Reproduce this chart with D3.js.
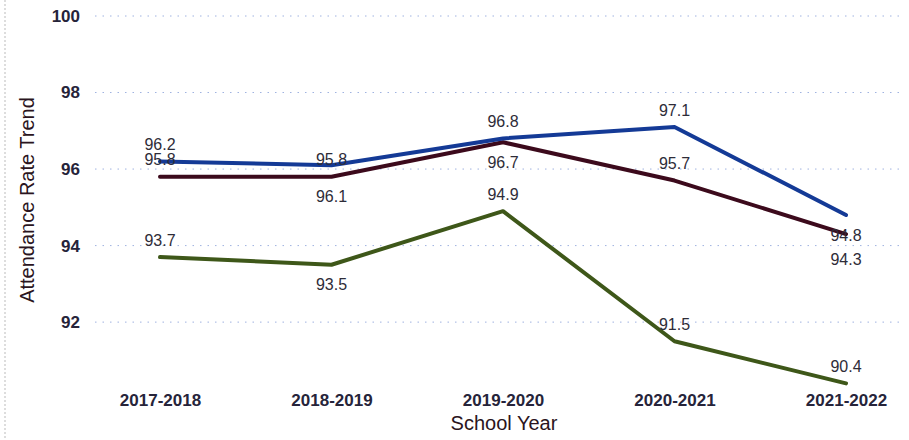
<!DOCTYPE html>
<html><head><meta charset="utf-8">
<script src="https://cdn.jsdelivr.net/npm/d3@7"></script>
<style>body{margin:0;background:#fff;font-family:"Liberation Sans",Arial,sans-serif}</style>
</head><body><svg id="c" width="909" height="440"></svg>
<script>
const categories = ["2017-2018","2018-2019","2019-2020","2020-2021","2021-2022"];
const blueValues   = [96.2, 96.1, 96.8, 97.1, 94.8];
const maroonValues = [95.8, 95.8, 96.7, 95.7, 94.3];
const greenValues  = [93.7, 93.5, 94.9, 91.5, 90.4];
const blueLabels   = ["96.2","95.8","96.8","97.1","94.8"];
const maroonLabels = ["95.8","96.1","96.7","95.7","94.3"];
const greenLabels  = ["93.7","93.5","94.9","91.5","90.4"];
const blueLabelPos   = ["above","on","above","above","below"];
const maroonLabelPos = ["above","below","below","above","below2"];
const greenLabelPos  = ["above","below","above","above","above"];
const yTicks = [92, 94, 96, 98, 100];

const svg = d3.select("#c");
const x = d3.scalePoint().domain(categories).range([160, 846]);
const y = d3.scaleLinear().domain([90.2, 100]).range([391, 16]);

// left dotted border
svg.append("line").attr("x1",5).attr("x2",5).attr("y1",0).attr("y2",440)
  .attr("stroke","#bbb").attr("stroke-dasharray","2,2");

// gridlines
svg.append("g").selectAll("line").data(yTicks).join("line")
  .attr("x1",95).attr("x2",905)
  .attr("y1",d=>y(d)).attr("y2",d=>y(d))
  .attr("stroke","#9fb2e0").attr("stroke-width",1).attr("stroke-dasharray","1.5,6");

// y axis
const yAxis = svg.append("g").attr("transform","translate(80,0)")
  .call(d3.axisLeft(y).tickValues(yTicks).tickSize(0).tickPadding(0));
yAxis.select(".domain").remove();
yAxis.selectAll("text").attr("font-size",17).attr("font-weight","bold")
  .attr("fill","#26243a").attr("font-family","Liberation Sans, Arial, sans-serif");

// x axis
const xAxis = svg.append("g").attr("transform","translate(0,392)")
  .call(d3.axisBottom(x).tickSize(0).tickPadding(0));
xAxis.select(".domain").remove();
xAxis.selectAll("text").attr("font-size",17).attr("font-weight","bold")
  .attr("fill","#26243a").attr("dy","0.85em").attr("font-family","Liberation Sans, Arial, sans-serif");

// axis titles
svg.append("text").attr("x",504).attr("y",430).attr("text-anchor","middle")
  .attr("font-size",20).attr("fill","#2a1420").text("School Year");
svg.append("text").attr("transform","translate(34,200) rotate(-90)").attr("text-anchor","middle")
  .attr("font-size",20).attr("fill","#2a1420").text("Attendance Rate Trend");

const line = d3.line().x((d,i)=>x(categories[i])).y(d=>y(d));
const series = [
  {vals: greenValues, labels: greenLabels, pos: greenLabelPos, color:"#3e5719"},
  {vals: maroonValues, labels: maroonLabels, pos: maroonLabelPos, color:"#3c0a1c"},
  {vals: blueValues, labels: blueLabels, pos: blueLabelPos, color:"#143a96"}
];
series.forEach(s=>{
  svg.append("path").datum(s.vals).attr("d",line).attr("fill","none")
    .attr("stroke",s.color).attr("stroke-width",4).attr("stroke-linejoin","round").attr("stroke-linecap","round");
});
const offs = {above:-17, below:20, on:-6, below2:25};
series.forEach(s=>{
  svg.append("g").selectAll("text").data(s.vals).join("text")
    .attr("x",(d,i)=>x(categories[i]))
    .attr("y",(d,i)=>y(d)+offs[s.pos[i]])
    .attr("dy","0.35em").attr("text-anchor","middle")
    .attr("font-size",16).attr("fill","#2e2c38")
    .text((d,i)=>s.labels[i]);
});
</script></body></html>
